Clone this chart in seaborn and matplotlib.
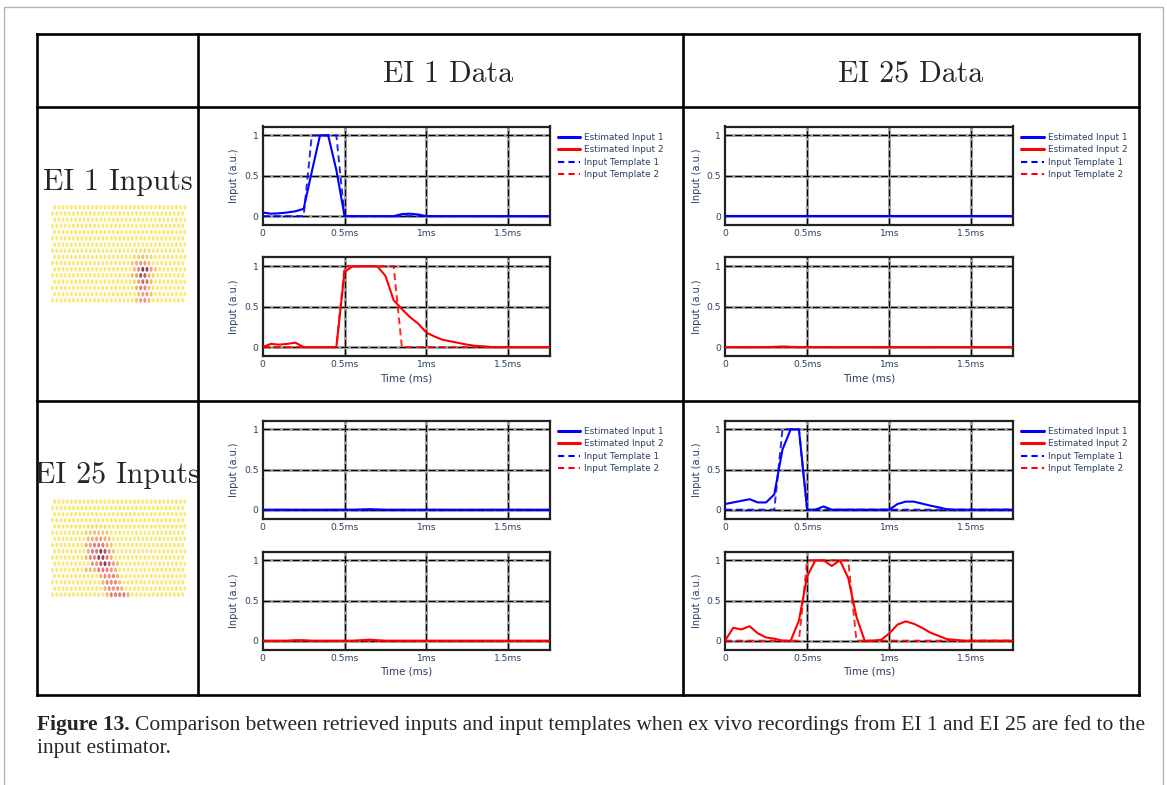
import numpy as np
import pandas as pd
import matplotlib
matplotlib.use("Agg")
import matplotlib.pyplot as plt
import seaborn as sns
from matplotlib.lines import Line2D
from matplotlib.colors import LinearSegmentedColormap

sns.set_theme(style="white")
plt.rcParams["font.family"] = ["DejaVu Sans"]
plt.rcParams["lines.scale_dashes"] = False

W, H = 1167, 785

# ---------------------------------------------------------------- data
# sampling grid of the input estimator (ms)
T_MS = np.round(np.linspace(0.0, 1.75, 36), 2)

X_TICKS = [0.0, 0.5, 1.0, 1.5]
X_LABELS = ["0", "0.5ms", "1ms", "1.5ms"]
Y_TICKS = [0.0, 0.5, 1.0]
Y_LABELS = ["0", "0.5", "1"]

ROW_TITLES = ["EI 1 Inputs", "EI 25 Inputs"]
COL_TITLES = ["EI 1 Data", "EI 25 Data"]
LEGEND_LABELS = ["Estimated Input 1", "Estimated Input 2",
                 "Input Template 1", "Input Template 2"]

# EI 1 inputs, EI 1 data
EST1_EI1_D1 = [0.045, 0.03, 0.035, 0.045, 0.06, 0.09, 0.55, 1.0, 1.0, 0.57,
               0.0, 0.0, 0.0, 0.0, 0.0, 0.0, 0.0, 0.025, 0.03, 0.02,
               0.0, 0.0, 0.0, 0.0, 0.0, 0.0, 0.0, 0.0, 0.0, 0.0,
               0.0, 0.0, 0.0, 0.0, 0.0, 0.0]
TMP1_EI1_D1 = [0, 0, 0, 0, 0, 0, 1, 1, 1, 1,
               0, 0, 0, 0, 0, 0, 0, 0, 0, 0,
               0, 0, 0, 0, 0, 0, 0, 0, 0, 0,
               0, 0, 0, 0, 0, 0]
EST2_EI1_D1 = [0.0, 0.04, 0.03, 0.04, 0.055, 0.0, 0.0, 0.0, 0.0, 0.0,
               0.93, 1.0, 1.0, 1.0, 1.0, 0.88, 0.58, 0.47, 0.37, 0.29,
               0.18, 0.13, 0.09, 0.07, 0.05, 0.03, 0.015, 0.01, 0.0, 0.0,
               0.0, 0.0, 0.0, 0.0, 0.0, 0.0]
TMP2_EI1_D1 = [0, 0, 0, 0, 0, 0, 0, 0, 0, 0,
               1, 1, 1, 1, 1, 1, 1, 0, 0, 0,
               0, 0, 0, 0, 0, 0, 0, 0, 0, 0,
               0, 0, 0, 0, 0, 0]

# EI 1 inputs, EI 25 data
EST1_EI1_D25 = [0.0] * 36
TMP1_EI1_D25 = [0] * 36
EST2_EI1_D25 = [0.0, 0.0, 0.0, 0.0, 0.0, 0.0, 0.003, 0.008, 0.003, 0.0,
                0.0, 0.0, 0.0, 0.0, 0.0, 0.0, 0.0, 0.0, 0.0, 0.0,
                0.0, 0.0, 0.0, 0.0, 0.0, 0.0, 0.0, 0.0, 0.0, 0.0,
                0.0, 0.0, 0.0, 0.0, 0.0, 0.0]
TMP2_EI1_D25 = [0] * 36

# EI 25 inputs, EI 1 data
EST1_EI25_D1 = [0.0, 0.0, 0.0, 0.0, 0.0, 0.0, 0.0, 0.0, 0.0, 0.0,
                0.0, 0.0, 0.003, 0.006, 0.003, 0.0, 0.0, 0.0, 0.0, 0.0,
                0.0, 0.0, 0.0, 0.0, 0.0, 0.0, 0.0, 0.0, 0.0, 0.0,
                0.0, 0.0, 0.0, 0.0, 0.0, 0.0]
TMP1_EI25_D1 = [0] * 36
EST2_EI25_D1 = [0.0, 0.0, 0.0, 0.0, 0.006, 0.006, 0.0, 0.0, 0.0, 0.0,
                0.0, 0.0, 0.006, 0.012, 0.006, 0.0, 0.0, 0.0, 0.0, 0.0,
                0.0, 0.0, 0.0, 0.0, 0.0, 0.0, 0.0, 0.0, 0.0, 0.0,
                0.0, 0.0, 0.0, 0.0, 0.0, 0.0]
TMP2_EI25_D1 = [0] * 36

# EI 25 inputs, EI 25 data
EST1_EI25_D25 = [0.07, 0.09, 0.11, 0.13, 0.09, 0.09, 0.19, 0.75, 1.0, 1.0,
                 0.0, 0.0, 0.04, 0.0, 0.0, 0.0, 0.0, 0.0, 0.0, 0.0,
                 0.0, 0.07, 0.1, 0.1, 0.075, 0.05, 0.03, 0.005, 0.0, 0.0,
                 0.0, 0.0, 0.0, 0.0, 0.0, 0.0]
TMP1_EI25_D25 = [0, 0, 0, 0, 0, 0, 0, 1, 1, 1,
                 0, 0, 0, 0, 0, 0, 0, 0, 0, 0,
                 0, 0, 0, 0, 0, 0, 0, 0, 0, 0,
                 0, 0, 0, 0, 0, 0]
EST2_EI25_D25 = [0.0, 0.16, 0.14, 0.18, 0.09, 0.04, 0.025, 0.0, 0.0, 0.25,
                 0.8, 1.0, 1.0, 0.93, 1.0, 0.78, 0.3, 0.0, 0.0, 0.01,
                 0.09, 0.2, 0.24, 0.21, 0.16, 0.1, 0.06, 0.02, 0.01, 0.0,
                 0.0, 0.0, 0.0, 0.0, 0.0, 0.0]
TMP2_EI25_D25 = [0, 0, 0, 0, 0, 0, 0, 0, 0, 0,
                 1, 1, 1, 1, 1, 1, 0, 0, 0, 0,
                 0, 0, 0, 0, 0, 0, 0, 0, 0, 0,
                 0, 0, 0, 0, 0, 0]

CELLS = {
    (0, 0): (EST1_EI1_D1, TMP1_EI1_D1, EST2_EI1_D1, TMP2_EI1_D1),
    (0, 1): (EST1_EI1_D25, TMP1_EI1_D25, EST2_EI1_D25, TMP2_EI1_D25),
    (1, 0): (EST1_EI25_D1, TMP1_EI25_D1, EST2_EI25_D1, TMP2_EI25_D1),
    (1, 1): (EST1_EI25_D25, TMP1_EI25_D25, EST2_EI25_D25, TMP2_EI25_D25),
}

# electrical images on the 16 x 32 hexagonal electrode array
# row -> {column: normalised amplitude}; all other electrodes are 0
N_ROWS, N_COLS = 16, 32
EI1_AMP = {
    7: {20: 0.1, 21: 0.12, 22: 0.12, 23: 0.1},
    8: {19: 0.15, 20: 0.25, 21: 0.3, 22: 0.25, 23: 0.15},
    9: {19: 0.25, 20: 0.45, 21: 0.6, 22: 0.55, 23: 0.3},
    10: {19: 0.35, 20: 0.65, 21: 1.0, 22: 0.95, 23: 0.55, 24: 0.25},
    11: {19: 0.3, 20: 0.5, 21: 0.9, 22: 0.85, 23: 0.4, 24: 0.2},
    12: {19: 0.2, 20: 0.45, 21: 0.8, 22: 0.75, 23: 0.35},
    13: {20: 0.4, 21: 0.7, 22: 0.65, 23: 0.3},
    14: {20: 0.3, 21: 0.5, 22: 0.55, 23: 0.3},
    15: {20: 0.3, 21: 0.55, 22: 0.6, 23: 0.35},
}
EI25_AMP = {
    4: {8: 0.1, 9: 0.12, 10: 0.12, 11: 0.12, 12: 0.1},
    5: {8: 0.2, 9: 0.25, 10: 0.3, 11: 0.3, 12: 0.25, 13: 0.2},
    6: {8: 0.35, 9: 0.4, 10: 0.55, 11: 0.55, 12: 0.4, 13: 0.3},
    7: {8: 0.45, 9: 0.5, 10: 0.7, 11: 0.7, 12: 0.7, 13: 0.45, 14: 0.3},
    8: {8: 0.4, 9: 0.7, 10: 0.75, 11: 1.0, 12: 0.9, 13: 0.6, 14: 0.3},
    9: {8: 0.35, 9: 0.65, 10: 0.65, 11: 0.95, 12: 0.95, 13: 0.7, 14: 0.4},
    10: {9: 0.6, 10: 0.6, 11: 0.85, 12: 1.0, 13: 0.8, 14: 0.55, 15: 0.3},
    11: {8: 0.35, 9: 0.35, 10: 0.35, 11: 0.7, 12: 0.7, 13: 0.7, 14: 0.6, 15: 0.35},
    12: {11: 0.4, 12: 0.65, 13: 0.65, 14: 0.65, 15: 0.4},
    13: {12: 0.35, 13: 0.65, 14: 0.65, 15: 0.65, 16: 0.35},
    14: {12: 0.35, 13: 0.6, 14: 0.6, 15: 0.6, 16: 0.4},
    15: {13: 0.35, 14: 0.7, 15: 0.7, 16: 0.7, 17: 0.7, 18: 0.4},
}

# ---------------------------------------------------------------- style
BLUE, RED = "#0000ff", "#ff0000"
TXT = "#2a3f5f"
GRID_GRAY = "#a6a6a6"
EI_CMAP = LinearSegmentedColormap.from_list(
    "ei", [(0.0, "#f6e872"), (0.2, "#ecd05a"), (0.4, "#f0a85c"),
           (0.6, "#ee8474"), (0.8, "#d84e5c"), (1.0, "#6b2a3c")])
DASH = (0, (5, 3))

fig = plt.figure(figsize=(W / 100, H / 100), dpi=100)


def px_axes(x0, y0, x1, y1):
    return fig.add_axes([x0 / W, 1 - y1 / H, (x1 - x0) / W, (y1 - y0) / H])


def fig_line(xs, ys, **kw):
    fig.add_artist(Line2D([x / W for x in xs], [1 - y / H for y in ys],
                          transform=fig.transFigure, **kw))


# page frame
fig_line([3.5, 3.5, 1163, 1163], [785, 6.5, 6.5, 785], color="#b4b4b4", lw=1.0)

# table grid
TAB_X = [37, 198, 683, 1139]
TAB_Y = [34, 107, 401, 695]
for y in TAB_Y:
    fig_line([TAB_X[0], TAB_X[-1]], [y, y], color="black", lw=1.9,
             solid_capstyle="projecting")
for x in TAB_X:
    fig_line([x, x], [TAB_Y[0], TAB_Y[-1]], color="black", lw=1.9,
             solid_capstyle="projecting")

# column / row titles
for txt, xc in zip(COL_TITLES, [448.5, 910.5]):
    fig.text(xc / W, 1 - 82 / H, txt, family="cmr10", fontsize=21.5,
             ha="center", va="baseline")
for txt, yb in zip(ROW_TITLES, [190, 483]):
    fig.text(117.5 / W, 1 - yb / H, txt, family="cmr10", fontsize=21.5,
             ha="center", va="baseline")

# electrode arrays
ell = np.column_stack([0.6 * np.cos(np.linspace(0, 2 * np.pi, 40)),
                       np.sin(np.linspace(0, 2 * np.pi, 40))])
for amp, y_top in zip([EI1_AMP, EI25_AMP], [204.2, 498.6]):
    rows, cols, vals = [], [], []
    for r in range(N_ROWS):
        for c in range(N_COLS):
            rows.append(r)
            cols.append(c + (0.5 if r % 2 == 0 else 0.0))
            vals.append(amp.get(r, {}).get(c, 0.0))
    df = pd.DataFrame({"x": cols, "y": rows, "amp": vals})
    ax = px_axes(50.4, y_top, 50.4 + 32.5 * 4.2, y_top + 99.2)
    sns.scatterplot(data=df, x="x", y="y", hue="amp", palette=EI_CMAP,
                    hue_norm=(0, 1), marker=ell, s=13, linewidth=0,
                    alpha=0.88, legend=False, ax=ax)
    ax.set_xlim(-0.5, 32.0)
    ax.set_ylim(15.5, -0.5)
    ax.axis("off")

# trace panels
AX_X = [(262.7, 550.0), (725.0, 1013.3)]
AX_Y = [[(126.5, 225.0), (257.3, 356.0)], [(420.5, 518.5), (551.5, 649.5)]]


def trace_panel(ax, est, tmp, color, xlabel):
    ax.set_xlim(0, 1.755)
    ax.set_ylim(-0.11, 1.11)
    for v in X_TICKS[1:]:
        ax.axvline(v, color=GRID_GRAY, lw=2.2, zorder=0.5)
        ax.axvline(v, color="black", lw=0.8, ls=(0, (5, 2)), zorder=0.6)
    for v in Y_TICKS:
        ax.axhline(v, color=GRID_GRAY, lw=2.2, zorder=0.5)
        ax.axhline(v, color="black", lw=0.8, ls=(0, (5, 2)), zorder=0.6)
    sns.lineplot(x=T_MS, y=est, ax=ax, color=color, linewidth=1.5,
                 estimator=None, sort=False, zorder=3)
    sns.lineplot(x=T_MS, y=tmp, ax=ax, color=color, linewidth=1.4,
                 linestyle=DASH, alpha=0.85, estimator=None, sort=False,
                 zorder=4)
    ax.set_xticks(X_TICKS, X_LABELS)
    ax.set_yticks(Y_TICKS, Y_LABELS)
    ax.tick_params(length=0, labelsize=6.6, labelcolor=TXT, pad=3)
    for s in ax.spines.values():
        s.set_visible(True)
        s.set_color("#222222")
        s.set_linewidth(1.6)
    ax.set_ylabel("Input (a.u.)", fontsize=7.0, color=TXT, va="center")
    ax.yaxis.set_label_coords(-28.4 / 287.3, 0.5)
    if xlabel:
        ax.set_xlabel("Time (ms)", fontsize=7.5, color=TXT, va="center")
        ax.xaxis.set_label_coords(0.5, -22 / 98.5)
    else:
        ax.set_xlabel("")


handles = [Line2D([], [], color=BLUE, lw=2.2),
           Line2D([], [], color=RED, lw=2.2),
           Line2D([], [], color=BLUE, lw=1.5, ls=(0, (4.5, 3))),
           Line2D([], [], color=RED, lw=1.5, ls=(0, (4.5, 3)))]

for (ri, ci), (e1, t1, e2, t2) in CELLS.items():
    x0, x1 = AX_X[ci]
    (ta, tb), (ba, bb) = AX_Y[ri]
    ax_top = px_axes(x0, ta, x1, tb)
    ax_bot = px_axes(x0, ba, x1, bb)
    trace_panel(ax_top, e1, t1, BLUE, False)
    trace_panel(ax_bot, e2, t2, RED, True)
    ax_top.legend(handles, LEGEND_LABELS, loc="upper left",
                  bbox_to_anchor=((x1 + 8) / W, 1 - (ta + 6.5) / H),
                  bbox_transform=fig.transFigure, frameon=False,
                  fontsize=6.4, labelcolor=TXT, handlelength=2.5,
                  handletextpad=0.45, labelspacing=0.38, borderpad=0,
                  borderaxespad=0)

# caption
CAPTION_BOLD = "Figure 13."
CAPTION_LINE1 = ("Comparison between retrieved inputs and input templates when "
                 "ex vivo recordings from EI 1 and EI 25 are fed to the")
CAPTION_LINE2 = "input estimator."
cap_size = 14.0
cap_font = "Liberation Serif"
renderer = fig.canvas.get_renderer()
t_b = fig.text(37 / W, 1 - 730 / H, CAPTION_BOLD, family=cap_font,
               fontweight="bold", fontsize=cap_size, va="baseline")
t_r = fig.text(0, 1 - 730 / H, CAPTION_LINE1, family=cap_font,
               fontsize=cap_size, va="baseline")
t_2 = fig.text(37 / W, 1 - 753 / H, CAPTION_LINE2, family=cap_font,
               fontsize=cap_size, va="baseline")


def place_caption(size):
    for t in (t_b, t_r, t_2):
        t.set_fontsize(size)
    bb = t_b.get_window_extent(renderer)
    t_r.set_x((bb.x1 + 0.25 * size * 100 / 72) / W)
    return t_r.get_window_extent(renderer).x1


right = place_caption(cap_size)
cap_size *= (1150 - 37) / (right - 37)
place_caption(cap_size)

fig.savefig("out.png", dpi=100)
